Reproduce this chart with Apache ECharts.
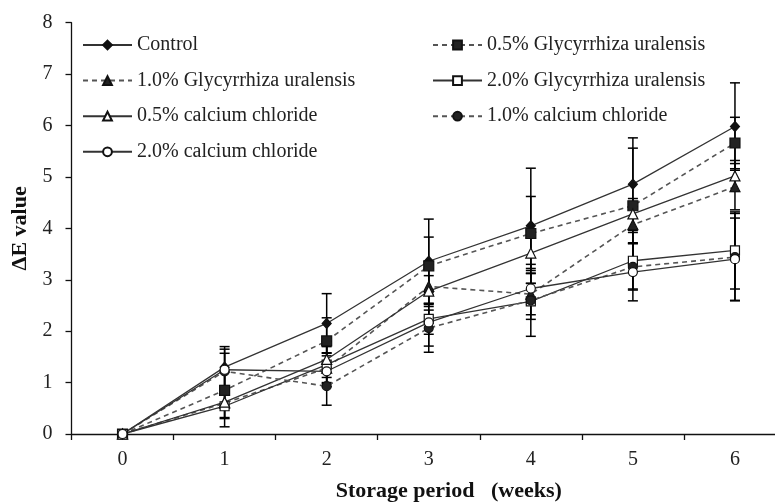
<!DOCTYPE html>
<html>
<head>
<meta charset="utf-8">
<script src="https://cdn.jsdelivr.net/npm/echarts@6/dist/echarts.min.js"></script>
<style>
html,body{margin:0;padding:0;background:#fff;overflow:hidden;}
#chart{width:786px;height:503px;}
</style>
</head>
<body>
<div id="chart"></div>
<script>
// Categories (storage period in weeks)
const weeks = ['0', '1', '2', '3', '4', '5', '6'];

// Series names
const names = [
  'Control',
  '0.5% Glycyrrhiza uralensis',
  '1.0% Glycyrrhiza uralensis',
  '2.0% Glycyrrhiza uralensis',
  '0.5% calcium chloride',
  '1.0% calcium chloride',
  '2.0% calcium chloride'
];

// ΔE values
const control = [0, 1.30, 2.15, 3.36, 4.05, 4.86, 5.98];
const gu05    = [0, 0.85, 1.81, 3.27, 3.90, 4.44, 5.66];
const gu10    = [0, 0.60, 1.28, 2.87, 2.72, 4.07, 4.81];
const gu20    = [0, 0.54, 1.35, 2.24, 2.58, 3.37, 3.57];
const ca05    = [0, 0.62, 1.45, 2.78, 3.52, 4.28, 5.02];
const ca10    = [0, 1.22, 0.93, 2.06, 2.60, 3.25, 3.44];
const ca20    = [0, 1.25, 1.22, 2.17, 2.83, 3.15, 3.40];

// Standard deviations (error bars)
const controlErr = [0, 0.40, 0.58, 0.82, 1.12, 0.90, 0.85];
const gu05Err    = [0, 0.35, 0.45, 0.56, 0.72, 1.12, 0.50];
const gu10Err    = [0, 0.30, 0.30, 0.35, 0.40, 0.35, 0.45];
const gu20Err    = [0, 0.40, 0.35, 0.30, 0.35, 0.55, 0.75];
const ca05Err    = [0, 0.30, 0.35, 0.30, 0.30, 0.30, 0.30];
const ca10Err    = [0, 0.35, 0.37, 0.35, 0.70, 0.45, 0.85];
const ca20Err    = [0, 0.40, 0.30, 0.58, 0.30, 0.56, 0.80];

// Y-axis ticks
const yMin = 0, yMax = 8, yInterval = 1;

const values = [control, gu05, gu10, gu20, ca05, ca10, ca20];
const errors = [controlErr, gu05Err, gu10Err, gu20Err, ca05Err, ca10Err, ca20Err];

const FONT = '"Liberation Serif", "Times New Roman", serif';
const styles = [
  {symbol: 'diamond',  size: [9, 10], fill: '#111', dashed: false},
  {symbol: 'rect',     size: 10, fill: '#222', dashed: true},
  {symbol: 'triangle', size: 10, fill: '#222', dashed: true},
  {symbol: 'rect',     size: 9,  fill: '#fff', dashed: false},
  {symbol: 'triangle', size: 10, fill: '#fff', dashed: false},
  {symbol: 'circle',   size: 9,  fill: '#222', dashed: true},
  {symbol: 'circle',   size: 9,  fill: '#fff', dashed: false}
];

const series = [];
values.forEach((vals, i) => {
  const st = styles[i];
  series.push({
    name: names[i],
    type: 'line',
    data: vals,
    z: 3,
    symbol: st.symbol,
    symbolSize: st.size,
    showAllSymbol: true,
    lineStyle: {
      color: st.dashed ? '#555' : '#333',
      width: st.dashed ? 1.6 : 1.3,
      type: st.dashed ? [5, 4] : 'solid'
    },
    itemStyle: {color: st.fill, borderColor: '#111', borderWidth: 1.2, opacity: 1},
    emphasis: {disabled: true},
    animation: false
  });
});
values.forEach((vals, i) => {
  series.push({
    type: 'custom',
    z: 2,
    silent: true,
    animation: false,
    data: vals.map((v, k) => [k, v, errors[i][k]]),
    renderItem: function (params, api) {
      const x = api.value(0), v = api.value(1), e = api.value(2);
      if (!e) return null;
      const top = api.coord([x, v + e]);
      const bot = api.coord([x, v - e]);
      const hw = 5;
      const st = {stroke: '#000', lineWidth: 1.5};
      return {
        type: 'group',
        children: [
          {type: 'line', shape: {x1: top[0], y1: top[1], x2: bot[0], y2: bot[1]}, style: st},
          {type: 'line', shape: {x1: top[0] - hw, y1: top[1], x2: top[0] + hw, y2: top[1]}, style: st},
          {type: 'line', shape: {x1: bot[0] - hw, y1: bot[1], x2: bot[0] + hw, y2: bot[1]}, style: st}
        ]
      };
    }
  });
});

const legendCommon = {
  orient: 'vertical',
  top: 30,
  itemWidth: 49,
  itemHeight: 11,
  itemGap: 15.6,
  selectedMode: false,
  textStyle: {fontFamily: FONT, fontSize: 20, color: '#222', lineHeight: 20}
};

const chart = echarts.init(document.getElementById('chart'), null, {renderer: 'canvas'});
chart.setOption({
  backgroundColor: '#fff',
  animation: false,
  grid: {left: 71.5, top: 22.7, bottom: 69, right: 0, containLabel: false, outerBoundsMode: 'none'},
  legend: [
    Object.assign({}, legendCommon, {left: 77, data: [names[0], names[2], names[4], names[6]]}),
    Object.assign({}, legendCommon, {left: 427, data: [names[1], names[3], names[5]]})
  ],
  xAxis: {
    type: 'category',
    data: weeks,
    boundaryGap: true,
    name: 'Storage period   (weeks)',
    nameLocation: 'middle',
    nameGap: 46,
    nameTextStyle: {fontFamily: FONT, fontSize: 22, fontWeight: 'bold', color: '#111', padding: [0, 0, 0, 40]},
    axisLine: {lineStyle: {color: '#111', width: 1.3}},
    axisTick: {show: true, length: 6, inside: false, lineStyle: {color: '#111', width: 1.3}},
    axisLabel: {fontFamily: FONT, fontSize: 20, color: '#222', margin: 16},
    splitLine: {show: false}
  },
  yAxis: {
    type: 'value',
    min: yMin,
    max: yMax,
    interval: yInterval,
    name: 'ΔE value',
    nameLocation: 'middle',
    nameGap: 40,
    nameRotate: 90,
    nameTextStyle: {fontFamily: FONT, fontSize: 22, fontWeight: 'bold', color: '#111'},
    axisLine: {show: true, lineStyle: {color: '#111', width: 1.3}},
    axisTick: {show: true, length: 6, inside: false, lineStyle: {color: '#111', width: 1.3}},
    axisLabel: {fontFamily: FONT, fontSize: 20, color: '#222', margin: 19},
    splitLine: {show: false}
  },
  series: series
});
</script>
</body>
</html>
